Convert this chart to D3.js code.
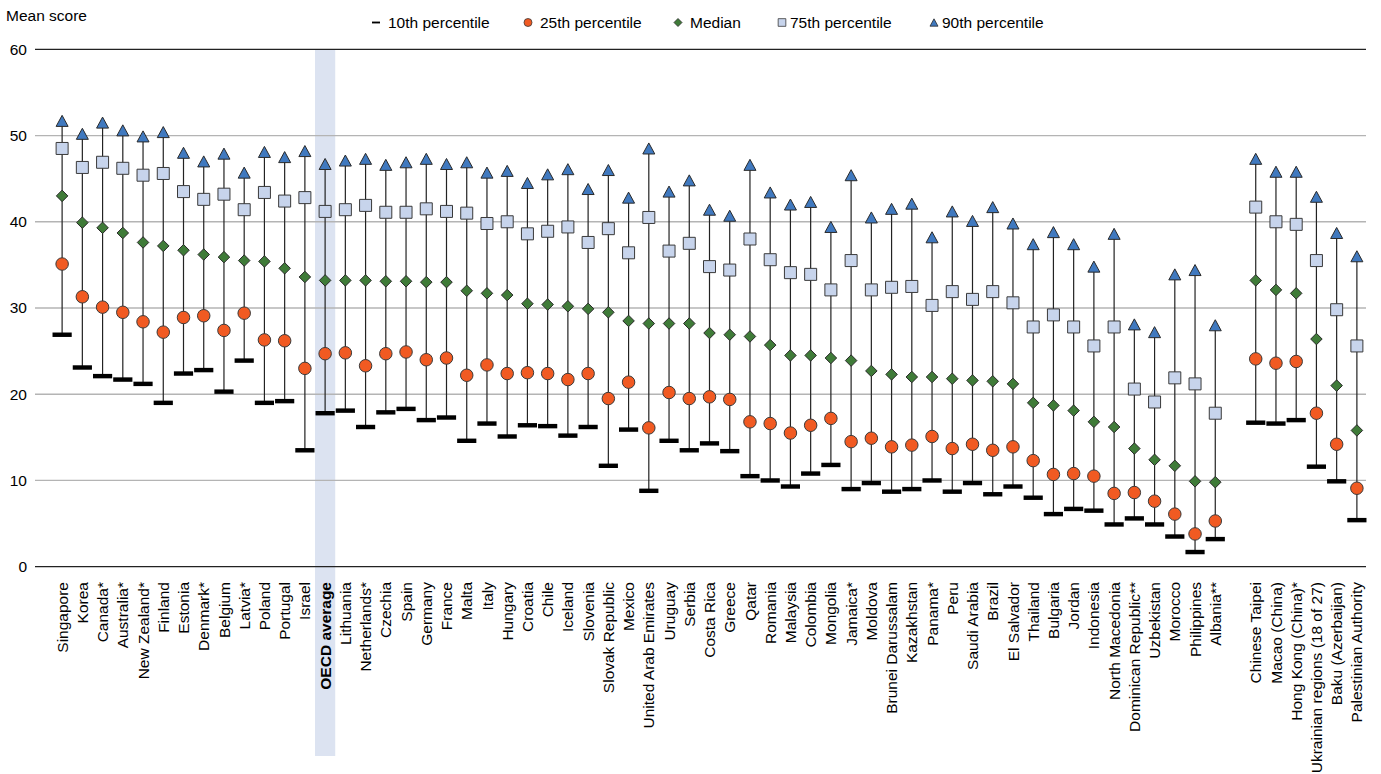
<!DOCTYPE html>
<html>
<head>
<meta charset="utf-8">
<script src="https://cdn.jsdelivr.net/npm/d3@7"></script>
<style>
  html, body { margin: 0; padding: 0; background: #fff; }
  text { font-family: Arial, "Liberation Sans", sans-serif; fill: #000; }
</style>
</head>
<body>
<svg id="chart" width="1381" height="774"></svg>
<script>
// Distribution of scores by percentile, per country / economy.
// A blank entry (" ") separates the partner economies on the right.

const categories = [
  "Singapore", "Korea", "Canada*", "Australia*", "New Zealand*", "Finland", "Estonia",
  "Denmark*", "Belgium", "Latvia*", "Poland", "Portugal", "Israel", "OECD average",
  "Lithuania", "Netherlands*", "Czechia", "Spain", "Germany", "France", "Malta", "Italy",
  "Hungary", "Croatia", "Chile", "Iceland", "Slovenia", "Slovak Republic", "Mexico",
  "United Arab Emirates", "Uruguay", "Serbia", "Costa Rica", "Greece", "Qatar", "Romania",
  "Malaysia", "Colombia", "Mongolia", "Jamaica*", "Moldova", "Brunei Darussalam",
  "Kazakhstan", "Panama*", "Peru", "Saudi Arabia", "Brazil", "El Salvador", "Thailand",
  "Bulgaria", "Jordan", "Indonesia", "North Macedonia", "Dominican Republic**",
  "Uzbekistan", "Morocco", "Philippines", "Albania**",
  " ",
  "Chinese Taipei", "Macao (China)", "Hong Kong (China)*", "Ukrainian regions (18 of 27)",
  "Baku (Azerbaijan)", "Palestinian Authority"
];

const p10 = [
  26.9, 23.1, 22.1, 21.7, 21.2, 19.0, 22.4, 22.8, 20.3, 23.9, 19.0, 19.2, 13.5, 17.8,
  18.1, 16.2, 17.9, 18.3, 17.0, 17.3, 14.6, 16.6, 15.1, 16.4, 16.3, 15.2, 16.2, 11.7,
  15.9, 8.8, 14.6, 13.5, 14.3, 13.4, 10.5, 10.0, 9.3, 10.8, 11.8, 9.0, 9.7, 8.7, 9.0,
  10.0, 8.7, 9.7, 8.4, 9.3, 8.0, 6.1, 6.7, 6.5, 4.9, 5.6, 4.9, 3.5, 1.7, 3.2,
  null,
  16.7, 16.6, 17.0, 11.6, 9.9, 5.4
];
const p25 = [
  35.1, 31.3, 30.1, 29.5, 28.4, 27.2, 28.9, 29.1, 27.4, 29.4, 26.3, 26.2, 23.0, 24.7,
  24.8, 23.3, 24.7, 24.9, 24.0, 24.2, 22.2, 23.4, 22.4, 22.5, 22.4, 21.7, 22.4, 19.5,
  21.4, 16.1, 20.2, 19.5, 19.7, 19.4, 16.8, 16.6, 15.5, 16.4, 17.2, 14.5, 14.9, 13.9,
  14.1, 15.1, 13.7, 14.2, 13.5, 13.9, 12.3, 10.7, 10.8, 10.5, 8.5, 8.6, 7.6, 6.1, 3.8, 5.3,
  null,
  24.1, 23.6, 23.8, 17.8, 14.2, 9.1
];
const median = [
  43.0, 39.9, 39.3, 38.7, 37.6, 37.2, 36.7, 36.2, 35.9, 35.5, 35.4, 34.6, 33.6, 33.2,
  33.2, 33.2, 33.1, 33.1, 33.0, 33.0, 32.0, 31.7, 31.5, 30.5, 30.4, 30.2, 29.9, 29.5,
  28.5, 28.2, 28.2, 28.2, 27.1, 26.9, 26.7, 25.7, 24.5, 24.5, 24.2, 23.9, 22.7, 22.3,
  22.0, 22.0, 21.8, 21.6, 21.5, 21.2, 19.0, 18.7, 18.1, 16.8, 16.2, 13.7, 12.4, 11.7, 9.9, 9.8,
  null,
  33.2, 32.1, 31.7, 26.4, 21.0, 15.8
];
const p75 = [
  48.5, 46.3, 46.9, 46.2, 45.4, 45.6, 43.5, 42.6, 43.2, 41.4, 43.4, 42.4, 42.8, 41.2,
  41.4, 41.9, 41.1, 41.1, 41.5, 41.2, 41.0, 39.8, 40.0, 38.6, 38.9, 39.4, 37.6, 39.2,
  36.4, 40.5, 36.6, 37.5, 34.8, 34.4, 38.0, 35.6, 34.1, 33.9, 32.1, 35.5, 32.1, 32.4,
  32.5, 30.3, 31.9, 31.0, 31.9, 30.6, 27.8, 29.2, 27.8, 25.6, 27.8, 20.6, 19.1, 21.9, 21.2, 17.8,
  null,
  41.7, 40.0, 39.7, 35.5, 29.8, 25.6
];
const p90 = [
  51.7, 50.2, 51.5, 50.6, 49.9, 50.4, 48.0, 47.0, 47.9, 45.7, 48.1, 47.5, 48.2, 46.7,
  47.1, 47.3, 46.6, 46.9, 47.3, 46.7, 46.9, 45.7, 45.9, 44.5, 45.5, 46.1, 43.8, 46.0,
  42.8, 48.5, 43.5, 44.8, 41.4, 40.7, 46.6, 43.4, 42.0, 42.3, 39.4, 45.4, 40.5, 41.5,
  42.1, 38.2, 41.2, 40.1, 41.7, 39.8, 37.4, 38.8, 37.4, 34.8, 38.6, 28.1, 27.2, 33.9, 34.4, 28.0,
  null,
  47.3, 45.8, 45.8, 42.9, 38.7, 36.0
];

const yTicks = [0, 10, 20, 30, 40, 50, 60];
const highlight = "OECD average";

const legendItems = [
  { key: "p10", label: "10th percentile" },
  { key: "p25", label: "25th percentile" },
  { key: "p50", label: "Median" },
  { key: "p75", label: "75th percentile" },
  { key: "p90", label: "90th percentile" }
];

// ---- marker shapes (path centred on 0,0) ----
const markerStyle = {
  p10: { fill: "#000000", stroke: "none" },
  p25: { fill: "#F15A22", stroke: "#3a3a3a" },
  p50: { fill: "#3F7B38", stroke: "#2a2a2a" },
  p75: { fill: "#C7D4EC", stroke: "#3a3a3a" },
  p90: { fill: "#4079BF", stroke: "#2a2a2a" }
};

function markerPath(key, s) {
  // s = nominal size in px
  if (key === "p10") {
    const w = s * 1.6, h = s * 0.37;
    return `M${-w / 2},${-h / 2}h${w}v${h}h${-w}Z`;
  }
  if (key === "p25") {
    const r = s / 2;
    return `M${r},0A${r},${r} 0 1,1 ${-r},0A${r},${r} 0 1,1 ${r},0Z`;
  }
  if (key === "p50") {
    const r = s * 0.5;
    return `M0,${-r}L${r},0L0,${r}L${-r},0Z`;
  }
  if (key === "p75") {
    const h = s * 0.48;
    return `M${-h},${-h}H${h}V${h}H${-h}Z`;
  }
  // triangle, bounding box centred
  const w = s * 0.5, h = s * 0.46;
  return `M0,${-h}L${w},${h}L${-w},${h}Z`;
}

const svg = d3.select("#chart");

const x = d3.scaleBand()
  .domain(categories)
  .range([52, 1367])
  .paddingInner(0)
  .paddingOuter(0);

const y = d3.scaleLinear()
  .domain([0, 60])
  .range([566.7, 49.3]);

const gridLeft = 35, gridRight = 1366;

// highlight band behind OECD average
svg.append("rect")
  .attr("x", x(highlight))
  .attr("y", y(60))
  .attr("width", x.bandwidth())
  .attr("height", 756 - y(60))
  .attr("fill", "#DCE3F1");

// gridlines
svg.append("g")
  .selectAll("line")
  .data(yTicks)
  .join("line")
  .attr("x1", gridLeft)
  .attr("x2", gridRight)
  .attr("y1", d => y(d))
  .attr("y2", d => y(d))
  .attr("stroke", d => (d === 0 || d === 60) ? "#222" : "#B4B4B4")
  .attr("stroke-width", d => (d === 0 || d === 60) ? 1.3 : 1.3);

// y tick labels
svg.append("g")
  .selectAll("text")
  .data(yTicks)
  .join("text")
  .attr("x", 27)
  .attr("y", d => y(d))
  .attr("dy", "0.35em")
  .attr("text-anchor", "end")
  .style("font-size", "15.5px")
  .text(d => d);

svg.append("text")
  .attr("x", 6)
  .attr("y", 21)
  .style("font-size", "15.5px")
  .text("Mean score");

// rows for drawing
const rows = categories.map((c, i) => ({
  name: c, p10: p10[i], p25: p25[i], p50: median[i], p75: p75[i], p90: p90[i]
})).filter(d => d.p10 != null);

const cx = d => x(d.name) + x.bandwidth() / 2;

// whiskers 10th -> 90th
svg.append("g")
  .selectAll("line")
  .data(rows)
  .join("line")
  .attr("x1", cx)
  .attr("x2", cx)
  .attr("y1", d => y(d.p10))
  .attr("y2", d => y(d.p90))
  .attr("stroke", "#222")
  .attr("stroke-width", 1.2);

// markers
const keys = ["p10", "p25", "p50", "p75", "p90"];
const sizes = { p10: 12, p25: 12.5, p50: 11.5, p75: 12.5, p90: 12 };
keys.forEach(k => {
  svg.append("g")
    .selectAll("path")
    .data(rows)
    .join("path")
    .attr("transform", d => `translate(${cx(d)},${y(d[k])})`)
    .attr("d", markerPath(k, sizes[k]))
    .attr("fill", markerStyle[k].fill)
    .attr("stroke", markerStyle[k].stroke)
    .attr("stroke-width", 1);
});

// category labels
svg.append("g")
  .selectAll("text")
  .data(categories.filter(c => c.trim() !== ""))
  .join("text")
  .attr("transform", d => `translate(${x(d) + x.bandwidth() / 2},582) rotate(-90)`)
  .attr("dy", "0.36em")
  .attr("text-anchor", "end")
  .style("font-size", "15.5px")
  .style("font-weight", d => d === highlight ? "bold" : "normal")
  .text(d => d);

// legend
const legendPos = [376, 528, 678, 782, 934];
const legend = svg.append("g");
legendItems.forEach((item, i) => {
  const lx = legendPos[i];
  legend.append("path")
    .attr("transform", `translate(${lx},22.5)`)
    .attr("d", markerPath(item.key, item.key === "p10" ? 5 : 8))
    .attr("fill", markerStyle[item.key].fill)
    .attr("stroke", markerStyle[item.key].stroke)
    .attr("stroke-width", 0.8);
  legend.append("text")
    .attr("x", lx + (item.key === "p75" || item.key === "p90" ? 8 : 12))
    .attr("y", 27.5)
    .style("font-size", "15.5px")
    .text(item.label);
});
</script>
</body>
</html>
